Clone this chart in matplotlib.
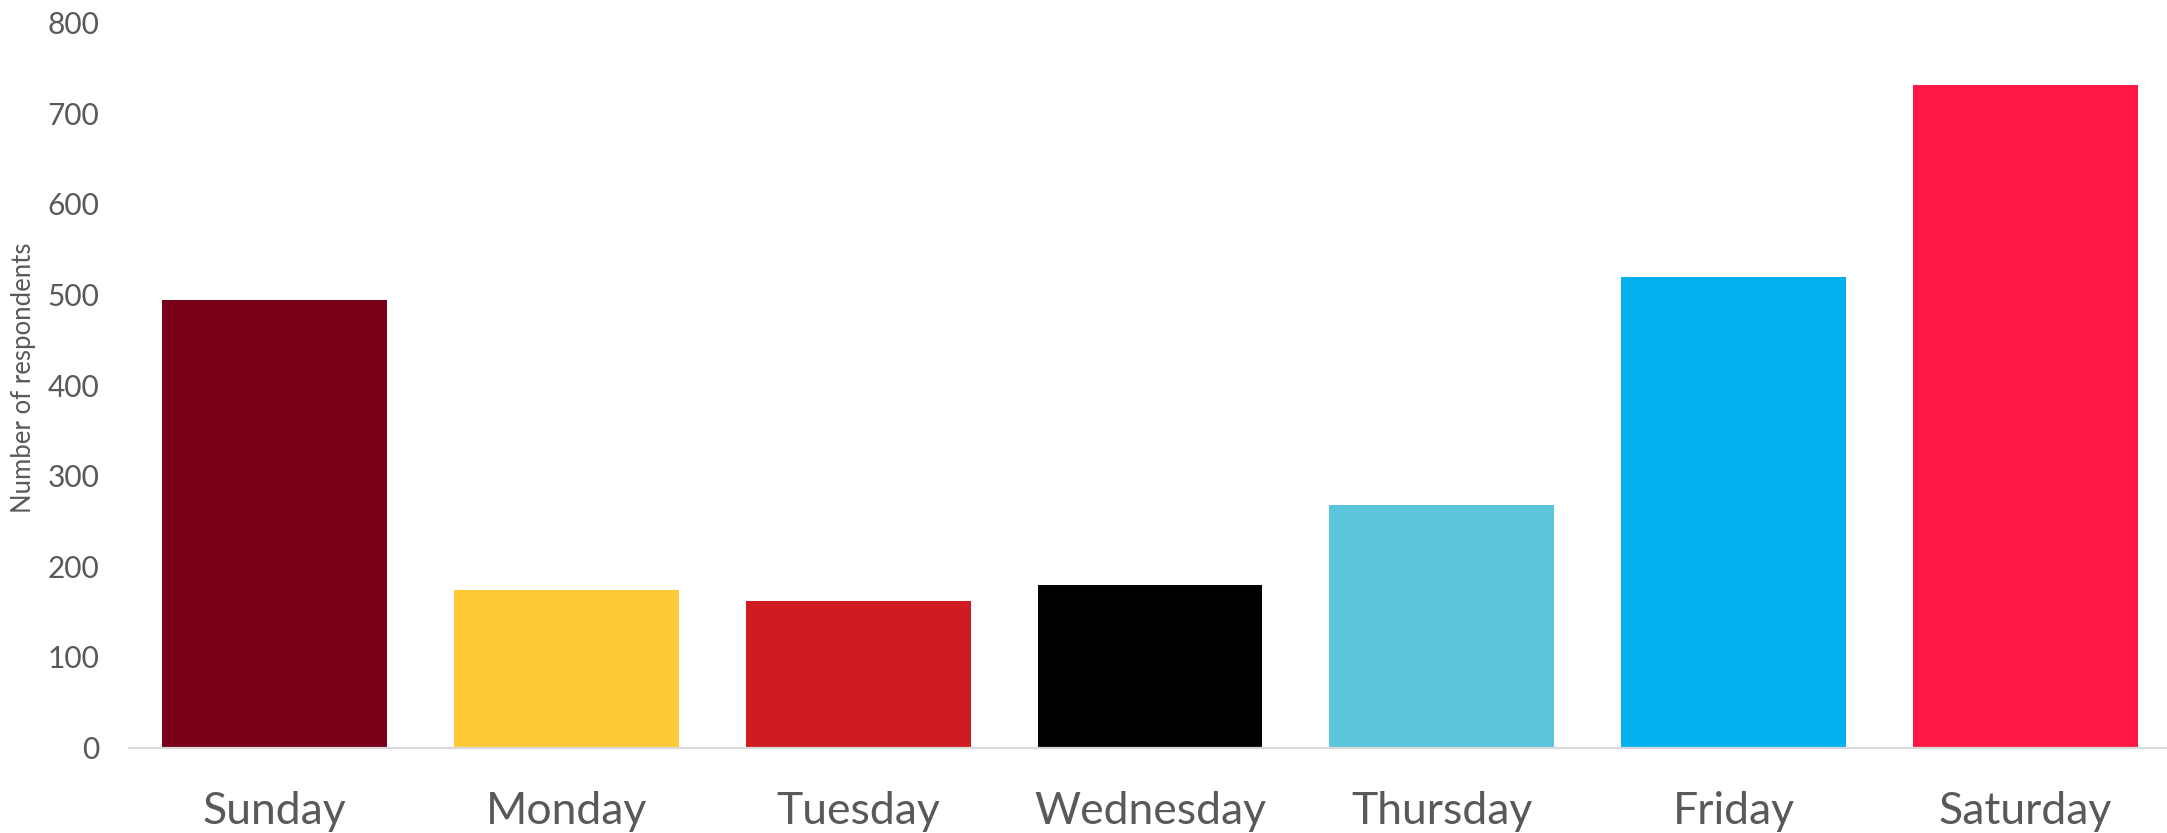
import matplotlib
matplotlib.use("Agg")
import matplotlib.pyplot as plt

days = ["Sunday", "Monday", "Tuesday", "Wednesday", "Thursday", "Friday", "Saturday"]
respondents = [494, 174, 162, 179, 268, 519, 731]
colors = ["#7A001A", "#FECB35", "#CE1C22", "#000000", "#5BC6DB", "#03B1EE", "#FF1846"]
y_ticks = [0, 100, 200, 300, 400, 500, 600, 700, 800]

plt.rcParams['font.family'] = ['Lato', 'DejaVu Sans']

fig = plt.figure(figsize=(21.67, 8.33), dpi=100)
ax = fig.add_axes([0.0594, 0.1026, 0.9426, 0.8701])

x = range(len(days))
ax.bar(x, respondents, width=0.77, color=colors, zorder=2)

ax.set_xlim(-0.5, len(days) - 0.5)
ax.set_ylim(0, 800)
ax.set_yticks(y_ticks)
ax.set_xticks(list(x))
ax.set_xticklabels(days)

for s in ["top", "right", "left"]:
    ax.spines[s].set_visible(False)
ax.spines["bottom"].set_color("#D9D9D9")
ax.spines["bottom"].set_linewidth(1.6)

ax.tick_params(axis="y", length=0, labelsize=21.5, labelcolor="#595959", pad=21)
ax.tick_params(axis="x", length=0, labelsize=32, labelcolor="#595959", pad=31)

ax.set_ylabel("Number of respondents", fontsize=18.5, color="#595959")
ax.yaxis.set_label_coords(-0.0455, 0.51)

fig.savefig("out.png", dpi=100)
